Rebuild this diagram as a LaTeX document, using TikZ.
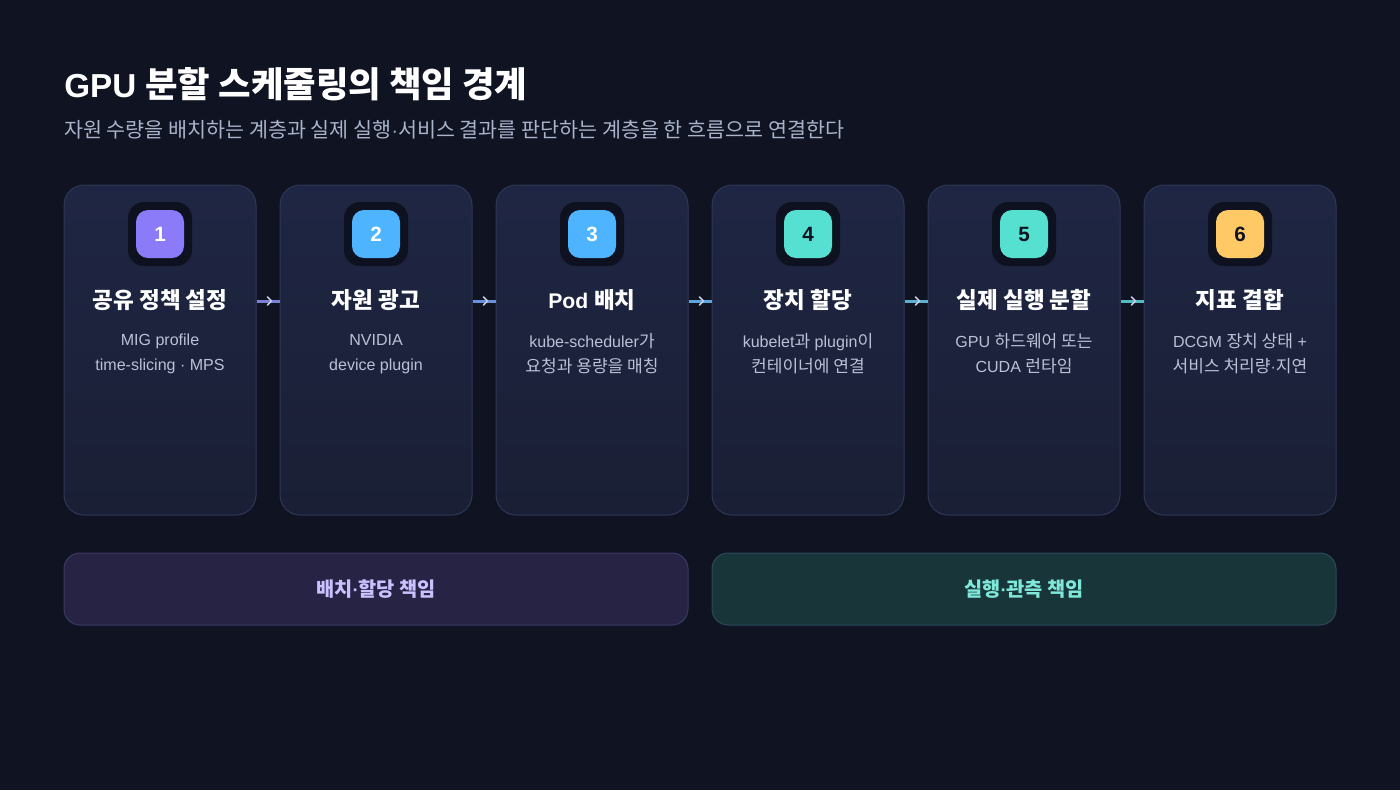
\documentclass[tikz,border=0pt]{standalone}
\usepackage{fontspec}
\setmainfont{Noto Sans CJK KR}
\newfontfamily\lat{Liberation Sans}[Scale=0.94]
\usetikzlibrary{calc}
\definecolor{bg}{HTML}{0F1322}
\definecolor{cardtop}{HTML}{1F2643}
\definecolor{cardbot}{HTML}{1A1F35}
\definecolor{cardline}{HTML}{2F3757}
\definecolor{badgebg}{HTML}{0D1120}
\definecolor{bone}{HTML}{8B7BF8}
\definecolor{btwo}{HTML}{4FB4FF}
\definecolor{bthree}{HTML}{4FB4FF}
\definecolor{bfour}{HTML}{55E0D2}
\definecolor{bfive}{HTML}{55E0CF}
\definecolor{bsix}{HTML}{FFC966}
\definecolor{numdark}{HTML}{0F1322}
\definecolor{subtxt}{HTML}{A9B3C9}
\definecolor{bodytxt}{HTML}{B9C1D6}
\definecolor{chev}{HTML}{C5CAE0}
\definecolor{kone}{HTML}{7B7FD6}
\definecolor{ktwo}{HTML}{6690E0}
\definecolor{kthree}{HTML}{5CA6E0}
\definecolor{kfour}{HTML}{58B2D0}
\definecolor{kfive}{HTML}{52BBC0}
\definecolor{lbarfill}{HTML}{272344}
\definecolor{lbarline}{HTML}{3A3A64}
\definecolor{lbartxt}{HTML}{C9C2FF}
\definecolor{rbarfill}{HTML}{18353A}
\definecolor{rbarline}{HTML}{2C4A58}
\definecolor{rbartxt}{HTML}{7FE8D8}
\newcommand{\bnum}[1]{{\lat\fontsize{16.5}{18}\selectfont\textbf{#1}}}
\tikzset{
  card/.style={rounded corners=15pt, minimum width=144pt, minimum height=247.5pt,
    inner sep=0pt, draw=cardline, line width=0.75pt, top color=cardtop, bottom color=cardbot},
  badgeouter/.style={rounded corners=12pt, minimum size=48pt, inner sep=0pt, fill=badgebg},
  badge/.style={rounded corners=9pt, minimum size=36pt, inner sep=0pt},
  ctitle/.style={text=white, font=\fontsize{16.9}{20}\selectfont\bfseries, inner sep=0pt},
  cbody/.style={text=bodytxt, align=center, font=\fontsize{12.8}{18.75}\selectfont, inner sep=0pt},
  conn/.style={line width=2.25pt},
  chevron/.style={draw=chev, line width=1.1pt, line cap=round, line join=round},
  bar/.style={rounded corners=12pt, minimum width=468pt, minimum height=54pt, inner sep=0pt,
    line width=0.75pt, font=\fontsize{14.8}{17}\selectfont\bfseries}
}
\begin{document}
\begin{tikzpicture}[x=0.75pt,y=-0.75pt]
\fill[bg] (0,0) rectangle (1400,790);
\useasboundingbox (0,0) rectangle (1400,790);

\node[anchor=base west, inner sep=0pt, text=white, font=\fontsize{26.5}{30}\selectfont\bfseries] (title) at (64,97) {{\lat GPU }분할 스케줄링의 책임 경계};
\node[anchor=base west, inner sep=0pt, text=subtxt, font=\fontsize{15.5}{18}\selectfont] (subtitle) at (64,137) {자원 수량을 배치하는 계층과 실제 실행{\lat ·}서비스 결과를 판단하는 계층을 한 흐름으로 연결한다};

% cards
\foreach \i/\x in {1/160,2/376,3/592,4/808,5/1024,6/1240}{
  \node[card] (c\i) at (\x,350) {};
  \node[badgeouter] (o\i) at (\x,234) {};
}
\node[badge, fill=bone, text=white] (b1) at (160,234) {\bnum{1}};
\node[badge, fill=btwo, text=white] (b2) at (376,234) {\bnum{2}};
\node[badge, fill=bthree, text=white] (b3) at (592,234) {\bnum{3}};
\node[badge, fill=bfour, text=numdark] (b4) at (808,234) {\bnum{4}};
\node[badge, fill=bfive, text=numdark] (b5) at (1024,234) {\bnum{5}};
\node[badge, fill=bsix, text=numdark] (b6) at (1240,234) {\bnum{6}};

\node[ctitle] (t1) at (160,300) {공유 정책 설정};
\node[ctitle] (t2) at (376,300) {자원 광고};
\node[ctitle] (t3) at (592,300) {{\lat Pod }배치};
\node[ctitle] (t4) at (808,300) {장치 할당};
\node[ctitle] (t5) at (1024,300) {실제 실행 분할};
\node[ctitle] (t6) at (1240,300) {지표 결합};

\node[cbody] (d1) at (160,354) {{\lat MIG profile}\\{\lat time-slicing · MPS}};
\node[cbody] (d2) at (376,354) {{\lat NVIDIA}\\{\lat device plugin}};
\node[cbody] (d3) at (592,354) {{\lat kube-scheduler}가\\요청과 용량을 매칭};
\node[cbody] (d4) at (808,354) {{\lat kubelet}과{\lat\ plugin}이\\컨테이너에 연결};
\node[cbody] (d5) at (1024,354) {{\lat GPU }하드웨어 또는\\{\lat CUDA }런타임};
\node[cbody] (d6) at (1240,354) {{\lat DCGM }장치 상태{\lat\ +}\\서비스 처리량{\lat ·}지연};

% connectors
\coordinate (lv) at (0,301);
\draw[conn, kone] (c1.east |- lv) -- (c2.west |- lv);
\draw[conn, ktwo] (c2.east |- lv) -- (c3.west |- lv);
\draw[conn, kthree] (c3.east |- lv) -- (c4.west |- lv);
\draw[conn, kfour] (c4.east |- lv) -- (c5.west |- lv);
\draw[conn, kfive] (c5.east |- lv) -- (c6.west |- lv);
\foreach \j in {2,...,6}{
  \draw[chevron] ($(c\j.west |- lv)+(-12,-4)$) -- ($(c\j.west |- lv)+(-8,0)$) -- ($(c\j.west |- lv)+(-12,4)$);
}

% bottom bars
\node[bar, fill=lbarfill, draw=lbarline, text=lbartxt] (p1) at (376,589) {배치{\lat ·}할당 책임};
\node[bar, fill=rbarfill, draw=rbarline, text=rbartxt] (p2) at (1024,589) {실행{\lat ·}관측 책임};
\end{tikzpicture}
\end{document}
